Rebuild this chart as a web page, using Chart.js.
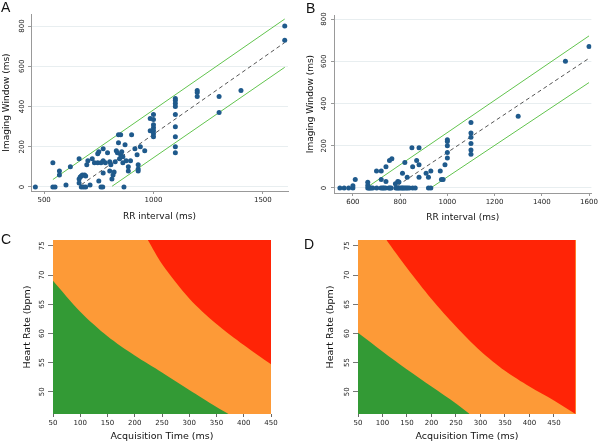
<!DOCTYPE html>
<html>
<head>
<meta charset="utf-8">
<script src="https://cdn.jsdelivr.net/npm/chart.js@4.4.1/dist/chart.umd.min.js"></script>
<style>
body{margin:0;background:#fff;width:600px;height:445px;position:relative;overflow:hidden}
canvas{position:absolute}
.tag{position:absolute;font:14px/14px "Liberation Sans",Arial,sans-serif;color:#111}
</style>
</head>
<body>
<canvas id="cA" width="300" height="225" style="left:0;top:0"></canvas>
<canvas id="cB" width="300" height="225" style="left:300px;top:0"></canvas>
<canvas id="cC" width="300" height="220" style="left:0;top:225px"></canvas>
<canvas id="cD" width="300" height="220" style="left:300px;top:225px"></canvas>
<div class="tag" style="left:1px;top:0">A</div>
<div class="tag" style="left:306px;top:1px">B</div>
<div class="tag" style="left:1px;top:232px">C</div>
<div class="tag" style="left:304px;top:237px">D</div>
<script>
// panel A: RR interval vs imaging window
var rrA = [460,540,540,550,570,570,600,620,660,660,660,665,670,675,685,690,670,680,690,695,700,710,720,730,745,760,745,750,750,760,768,770,770,770,780,790,800,800,805,810,815,820,825,830,835,840,840,850,845,850,855,860,860,865,870,875,885,885,895,900,915,925,930,930,930,940,960,985,985,1000,1000,1000,1000,1000,1000,1000,1100,1100,1100,1100,1100,1100,1100,1100,1100,1200,1200,1200,1300,1300,1400,1600,1600];
var iwA = [0,120,0,0,80,60,10,100,140,40,20,50,55,60,60,55,0,0,0,110,130,10,140,120,120,120,165,175,30,0,0,190,130,70,120,170,125,80,110,40,60,75,125,180,170,220,260,260,140,160,175,150,120,0,210,130,80,100,130,260,190,160,110,90,80,200,180,340,280,360,335,310,295,280,265,250,440,430,415,400,360,300,250,200,170,480,470,450,450,370,480,800,730];
var fitXA = [671,1600], fitYA = [12,718];
var upXA = [540,1600], upYA = [37,835];
var loXA = [811,1600], loYA = [4,595];
var xTicksA = [500,1000,1500], yTicksA = [0,200,400,600,800];

// panel B
var rrB = [545,563,582,600,663,668,672,677,684,701,719,726,731,738,752,757,762,782,787,792,797,804,809,814,820,826,832,839,853,864,920,930,
  600,610,663,663,700,720,720,740,740,755,765,780,790,795,810,820,830,850,853,870,880,880,880,910,920,930,970,975,982,990,1000,1000,1000,1000,1000,1100,1100,1100,1100,1100,1100,1300,1500,1600];
var iwB = [0,0,0,0,0,0,0,0,0,0,0,0,0,0,0,0,0,0,0,0,0,0,0,0,0,0,0,0,0,0,0,0,
  10,40,27,12,80,80,40,100,30,130,138,20,30,28,70,120,50,190,100,130,190,110,50,70,50,80,80,40,40,110,228,220,200,168,142,310,260,240,210,180,160,340,600,670];
var fitXB = [790,1600], fitYB = [12,614];
var upXB = [663,1600], upYB = [5,720];
var loXB = [930,1600], loYB = [0,499];
var xTicksB = [600,800,1000,1200,1400,1600], yTicksB = [0,200,400,600,800];

// panels C and D: region boundaries (acquisition time, heart rate)
var greenXC = [50,100,150,200,250,300,350,372];
var greenYC = [69,63.7,59.5,56.2,53.3,50.3,47.4,46.2];
var redXC = [224,250,300,350,400,450];
var redYC = [76,71.9,66.0,61.6,58.0,54.7];
var greenXD = [50,100,150,200,250,278];
var greenYD = [60.1,56.9,53.8,50.9,48.0,46.2];
var redXD = [108,150,200,250,300,350,400,450,494];
var redYD = [76,71.2,65.9,61.2,57.0,53.6,50.9,48.5,46.2];
var xTicksCD = [50,100,150,200,250,300,350,400,450];
var yTicksCD = [50,55,60,65,70,75];

var FONT = '"DejaVu Sans", sans-serif';
var GREEN = '#339a35', ORANGE = '#fd9a37', RED = '#ff2406';

function pts(xs, ys) { return xs.map(function (x, i) { return {x: x, y: ys[i]}; }); }

// y tick labels are rotated, so draw them here
var rotYTicks = {
  id: 'rotYTicks',
  afterDraw: function (chart, args, opts) {
    var s = chart.scales.y, ctx = chart.ctx;
    ctx.save();
    ctx.font = opts.size + 'px ' + FONT;
    ctx.fillStyle = '#222';
    ctx.textAlign = 'center';
    ctx.textBaseline = 'middle';
    s.ticks.forEach(function (t) {
      ctx.save();
      ctx.translate(s.right - opts.gap, s.getPixelForValue(t.value));
      ctx.rotate(-Math.PI / 2);
      ctx.fillText(String(t.value), 0, 0);
      ctx.restore();
    });
    ctx.restore();
  }
};

function scatterChart(id, rr, iw, fit, up, lo, xr, yr, xt, yt, lay) {
  new Chart(document.getElementById(id), {
    type: 'scatter',
    data: {
      datasets: [
        {data: pts(rr, iw), backgroundColor: '#1f5a8c', borderColor: '#1f5a8c', pointRadius: 2.5, pointBorderWidth: 0, order: 0},
        {data: fit, showLine: true, borderColor: '#555', borderWidth: 1, borderDash: [4, 3], pointRadius: 0, order: 1},
        {data: up, showLine: true, borderColor: '#62c44e', borderWidth: 1, pointRadius: 0, order: 2},
        {data: lo, showLine: true, borderColor: '#62c44e', borderWidth: 1, pointRadius: 0, order: 2}
      ]
    },
    options: {
      responsive: false, animation: false,
      layout: {padding: {top: lay.top, right: lay.right, left: 0, bottom: 0}},
      plugins: {legend: {display: false}, tooltip: {enabled: false}, rotYTicks: {gap: lay.gap, size: 7}},
      scales: {
        x: {
          type: 'linear', min: xr[0], max: xr[1],
          afterBuildTicks: function (s) { s.ticks = xt.map(function (v) { return {value: v}; }); },
          afterFit: function (s) { s.height = lay.xh; },
          grid: {drawOnChartArea: false, tickLength: 3, color: '#999'},
          border: {color: '#999'},
          ticks: {padding: 2, color: '#222', font: {family: FONT, size: 7}, callback: function (v) { return String(v); }},
          title: {display: true, text: 'RR interval (ms)', color: '#111', font: {family: FONT, size: 9}, padding: {top: 0, bottom: lay.xtp}}
        },
        y: {
          type: 'linear', min: yr[0], max: yr[1],
          afterBuildTicks: function (s) { s.ticks = yt.map(function (v) { return {value: v}; }); },
          afterFit: function (s) { s.width = lay.yw; },
          grid: {color: '#e8eef0', tickColor: '#999', tickLength: 3},
          border: {color: '#999'},
          ticks: {display: false},
          title: {display: true, text: 'Imaging Window (ms)', color: '#111', font: {family: FONT, size: 9}, padding: {top: lay.ytp, bottom: 0}}
        }
      }
    },
    plugins: [rotYTicks]
  });
}

function regionChart(id, gx, gy, rx, ry, xr, lay) {
  new Chart(document.getElementById(id), {
    type: 'scatter',
    data: {
      datasets: [
        {data: pts([xr[0], xr[1]], [76, 76]), showLine: true, borderWidth: 0, pointRadius: 0, backgroundColor: ORANGE, fill: 'start', order: 5},
        {data: pts(gx, gy), showLine: true, borderWidth: 0, pointRadius: 0, backgroundColor: GREEN, fill: 'start', tension: 0.3, order: 1},
        {data: pts(rx, ry), showLine: true, borderWidth: 0, pointRadius: 0, backgroundColor: RED, fill: 'end', tension: 0.3, order: 2}
      ]
    },
    options: {
      responsive: false, animation: false,
      layout: {padding: {top: 15, right: lay.right, left: 0, bottom: 0}},
      plugins: {legend: {display: false}, tooltip: {enabled: false}, rotYTicks: {gap: lay.gap, size: 7}},
      scales: {
        x: {
          type: 'linear', min: xr[0], max: xr[1],
          afterBuildTicks: function (s) { s.ticks = xTicksCD.map(function (v) { return {value: v}; }); },
          afterFit: function (s) { s.height = 31; },
          grid: {drawOnChartArea: false, tickLength: 3, color: '#666'},
          border: {display: false},
          ticks: {padding: 2, color: '#222', font: {family: FONT, size: 7}, callback: function (v) { return String(v); }},
          title: {display: true, text: 'Acquisition Time (ms)', color: '#111', font: {family: FONT, size: 9.5}, padding: {top: 0, bottom: 2.3}}
        },
        y: {
          type: 'linear', min: 46.2, max: 76,
          afterBuildTicks: function (s) { s.ticks = yTicksCD.map(function (v) { return {value: v}; }); },
          afterFit: function (s) { s.width = lay.yw; },
          grid: {drawOnChartArea: false, tickLength: 5, color: '#777'},
          border: {display: false},
          ticks: {display: false},
          title: {display: true, text: 'Heart Rate (bpm)', color: '#111', font: {family: FONT, size: 9.5}, padding: {top: lay.ytp, bottom: 0}}
        }
      }
    },
    plugins: [rotYTicks]
  });
}

scatterChart('cA', rrA, iwA, pts(fitXA, fitYA), pts(upXA, upYA), pts(loXA, loYA), [440, 1615], [-20, 860], xTicksA, yTicksA,
  {top: 14, right: 12, yw: 31, xh: 34, gap: 9, ytp: 1.6, xtp: 2.6});
scatterChart('cB', rrB, iwB, pts(fitXB, fitYB), pts(upXB, upYB), pts(loXB, loYB), [520, 1610], [-24, 819], xTicksB, yTicksB,
  {top: 15, right: 7, yw: 34, xh: 32, gap: 10, ytp: 5.6, xtp: 1.6});
regionChart('cC', greenXC, greenYC, redXC, redYC, [50, 450], {right: 29, yw: 53, gap: 11, ytp: 22.3});
regionChart('cD', greenXD, greenYD, redXD, redYD, [50, 495], {right: 24, yw: 58, gap: 10.5, ytp: 25.3});
</script>
</body>
</html>
